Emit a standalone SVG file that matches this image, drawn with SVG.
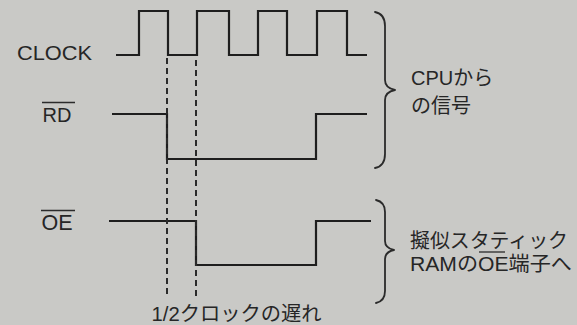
<svg xmlns="http://www.w3.org/2000/svg" width="577" height="325" viewBox="0 0 577 325">
<style>
.bg{fill:#c9c9c6}
.wave{fill:none;stroke:#1e1e1e;stroke-width:2.2;stroke-linejoin:miter}
.dash{fill:none;stroke:#2a2a2a;stroke-width:2;stroke-dasharray:6 4}
.brace{fill:none;stroke:#2a2a2a;stroke-width:1.8;stroke-linecap:round;stroke-linejoin:round}
.lbl{font-family:"Liberation Sans","Noto Sans CJK JP",sans-serif;fill:#262626}
.bar{stroke:#2b2b2b;stroke-width:1.3}
</style>
<rect class="bg" x="0" y="0" width="577" height="325"/>
<g id="clock">
<text class="lbl" x="17" y="59.5" font-size="20" textLength="75" lengthAdjust="spacingAndGlyphs">CLOCK</text>
<path class="wave" d="M116,55 H139 V11 H168 V55 H197 V11 H229 V55 H258 V11 H287 V55 H317 V11 H347 V55 H367"/>
</g>
<g id="rd">
<text class="lbl" x="42.5" y="121.7" font-size="20">RD</text>
<line class="bar" x1="42" y1="102.5" x2="75" y2="102.5"/>
<path class="wave" d="M112,114 H167 V159 H316 V114 H367"/>
</g>
<g id="oe">
<text class="lbl" x="41.5" y="229.5" font-size="21.5">OE</text>
<line class="bar" x1="41" y1="210.5" x2="75" y2="210.5"/>
<path class="wave" d="M109,221 H196 V265 H316 V221 H371"/>
</g>
<g id="connectors">
<line class="dash" x1="167" y1="58" x2="167" y2="298"/>
<line class="dash" x1="196" y1="60" x2="196" y2="298"/>
</g>
<g id="delay-label">
<text class="lbl" x="151.5" y="321" font-size="20" textLength="170" lengthAdjust="spacingAndGlyphs">1/2クロックの遅れ</text>
</g>
<g id="cpu-brace">
<path class="brace" d="M375,12 Q385,14 385,26 V80 Q385,88 395,90 Q385,92 385,100 V154 Q385,166 375,168"/>
<text class="lbl" x="411" y="85" font-size="20">CPUから</text>
<text class="lbl" x="411" y="112.5" font-size="20">の信号</text>
</g>
<g id="ram-brace">
<path class="brace" d="M376,200 Q385,202 385,212 V241 Q385,248 394,250 Q385,252 385,259 V291 Q385,301 376,303"/>
<text class="lbl" x="410" y="248" font-size="20" textLength="158" lengthAdjust="spacingAndGlyphs">擬似スタティック</text>
<text class="lbl" x="410" y="270.5" font-size="20.5" textLength="162" lengthAdjust="spacingAndGlyphs">RAMのOE端子へ</text>
<line class="bar" x1="479" y1="252" x2="505" y2="252"/>
</g>
</svg>
